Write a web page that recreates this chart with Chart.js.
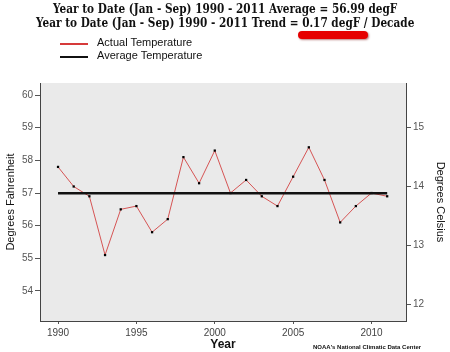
<!DOCTYPE html>
<html>
<head>
<meta charset="utf-8">
<script src="https://cdn.jsdelivr.net/npm/chart.js@4/dist/chart.umd.min.js"></script>
<style>
    html, body { margin: 0; padding: 0; background: #fff; }
    #wrap { position: relative; width: 450px; height: 352px; overflow: hidden; }
    #chart { position: absolute; left: 0; top: 0; }
    .title { position: absolute; left: 0; width: 450px; text-align: center; font-family: "DejaVu Serif", serif; font-weight: bold; font-size: 12px; color: #111; white-space: nowrap; transform: scaleX(0.875); transform-origin: 226px 0; }
    .legend-row { position: absolute; left: 60px; font-family: "Liberation Sans", Arial, sans-serif; font-size: 11px; color: #111; }
    .legend-row span.swatch { position: absolute; left: 0; width: 28px; height: 2px; }
    .legend-row span.label { position: absolute; left: 37px; white-space: nowrap; top: -7px; }
    #mark { position: absolute; left: 298px; top: 31px; width: 70px; height: 8px; background: #e60000; border-radius: 5px; box-shadow: 1px 1px 2px rgba(120,0,0,0.5); }
    #credit { position: absolute; left: 313px; top: 344px; font-family: "Liberation Sans", Arial, sans-serif; font-weight: bold; font-size: 6px; color: #111; white-space: nowrap; }
</style>
</head>
<body>
<div id="wrap">
    <canvas id="chart" width="450" height="352"></canvas>
    <div class="title" style="top: 2px;">Year to Date (Jan - Sep) 1990 - 2011 Average = 56.99 degF</div>
    <div class="title" style="top: 16px;">Year to Date (Jan - Sep) 1990 - 2011 Trend = 0.17 degF / Decade</div>
    <div id="mark"></div>
    <div class="legend-row" style="top: 43px;"><span class="swatch" style="background:#d63a3a;"></span><span class="label">Actual Temperature</span></div>
    <div class="legend-row" style="top: 56px;"><span class="swatch" style="background:#111;"></span><span class="label">Average Temperature</span></div>
    <div id="credit">NOAA's National Climatic Data Center</div>
</div>
<script>
// Year to date (Jan - Sep) temperatures, degF
const years = [1990, 1991, 1992, 1993, 1994, 1995, 1996, 1997, 1998, 1999, 2000,
               2001, 2002, 2003, 2004, 2005, 2006, 2007, 2008, 2009, 2010, 2011];
const tempsF = [57.8, 57.2, 56.9, 55.1, 56.5, 56.6, 55.8, 56.2, 58.1, 57.3, 58.3,
                57.0, 57.4, 56.9, 56.6, 57.5, 58.4, 57.4, 56.1, 56.6, 57.0, 56.9];
const averageF = 56.99;

const xTicks = [1990, 1995, 2000, 2005, 2010];
const fTicks = [54, 55, 56, 57, 58, 59, 60];
const cTicks = [12, 13, 14, 15];

const yMin = 53.08, yMax = 60.37;
const toC = f => (f - 32) / 1.8;

// Shade the plotting area grey
const plotBackground = {
    id: 'plotBackground',
    beforeDraw(chart) {
        const { ctx, chartArea } = chart;
        ctx.save();
        ctx.fillStyle = '#eaeaea';
        ctx.fillRect(chartArea.left, chartArea.top, chartArea.right - chartArea.left, chartArea.bottom - chartArea.top);
        ctx.restore();
    }
};

const tickFont = { family: 'Liberation Sans, Arial, sans-serif', size: 10 };
const titleFont = { family: 'Liberation Sans, Arial, sans-serif', size: 11 };

const ctx = document.getElementById('chart').getContext('2d');
new Chart(ctx, {
    type: 'line',
    data: {
        datasets: [
            {
                label: 'Average Temperature',
                data: [{ x: years[0], y: averageF }, { x: years[years.length - 1], y: averageF }],
                borderColor: '#111',
                borderWidth: 2.5,
                pointRadius: 0,
                yAxisID: 'y'
            },
            {
                label: 'Actual Temperature',
                data: years.map((yr, i) => ({ x: yr, y: tempsF[i] })),
                borderColor: '#d65555',
                borderWidth: 1,
                pointStyle: 'rect',
                pointRadius: 1.6,
                pointBackgroundColor: '#000',
                pointBorderColor: '#000',
                pointBorderWidth: 0,
                tension: 0,
                yAxisID: 'y'
            }
        ]
    },
    options: {
        responsive: false,
        animation: false,
        layout: { padding: { top: 83, left: 0, right: 0, bottom: 0 } },
        plugins: {
            legend: { display: false },
            tooltip: { enabled: false },
            title: { display: false }
        },
        scales: {
            x: {
                type: 'linear',
                min: 1988.85,
                max: 2012.2,
                afterBuildTicks: s => { s.ticks = xTicks.map(v => ({ value: v })); },
                afterFit: s => { s.height = 31; },
                ticks: { font: tickFont, color: '#444', padding: 3, callback: v => String(v), maxRotation: 0 },
                grid: { drawOnChartArea: false, drawTicks: true, tickLength: 3, color: '#555' },
                border: { display: true, color: '#444', width: 1 },
                title: { display: true, text: 'Year', color: '#111', font: { family: 'Liberation Sans, Arial, sans-serif', size: 12, weight: 'bold' }, padding: { top: 0, bottom: 0 } }
            },
            y: {
                position: 'left',
                min: yMin,
                max: yMax,
                afterBuildTicks: s => { s.ticks = fTicks.map(v => ({ value: v })); },
                afterFit: s => { s.width = 40; },
                ticks: { font: tickFont, color: '#555', padding: 2, callback: v => String(v) },
                grid: { drawOnChartArea: false, drawTicks: true, tickLength: 5, color: '#555' },
                border: { display: true, color: '#444', width: 1 },
                title: { display: true, text: 'Degrees Fahrenheit', color: '#111', font: titleFont, padding: { top: 4, bottom: 0 } }
            },
            y2: {
                position: 'right',
                min: toC(yMin),
                max: toC(yMax),
                afterBuildTicks: s => { s.ticks = cTicks.map(v => ({ value: v })); },
                afterFit: s => { s.width = 44; },
                ticks: { font: tickFont, color: '#555', padding: 2, callback: v => String(v) },
                grid: { drawOnChartArea: false, drawTicks: true, tickLength: 5, color: '#555' },
                border: { display: true, color: '#444', width: 1 },
                title: { display: true, text: 'Degrees Celsius', color: '#111', font: titleFont, padding: { top: 3, bottom: 0 } }
            }
        }
    },
    plugins: [plotBackground]
});
</script>
</body>
</html>
